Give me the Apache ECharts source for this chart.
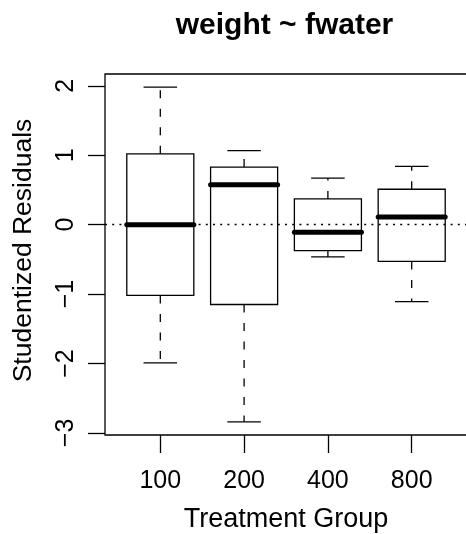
<!DOCTYPE html>
<html>
<head>
<meta charset="utf-8">
<script src="https://cdn.jsdelivr.net/npm/echarts@6/dist/echarts.min.js"></script>
<style>
  html, body { margin: 0; padding: 0; background: #fff; }
  #chart { width: 466px; height: 534px; }
</style>
</head>
<body>
<div id="chart"></div>
<script>
  // groups and five-number summaries
  const groups = ['100', '200', '400', '800']
  const lowerWhisker = [-1.99, -2.84, -0.465, -1.11]
  const lowerQuartile = [-1.02, -1.15, -0.375, -0.53]
  const median = [0.0, 0.575, -0.11, 0.11]
  const upperQuartile = [1.02, 0.83, 0.37, 0.51]
  const upperWhisker = [1.98, 1.065, 0.67, 0.84]
  const yTicks = [-3, -2, -1, 0, 1, 2]

  const font = '"Liberation Sans", Arial, sans-serif'
  const ink = '#000'

  const boxData = groups.map((g, i) => [
    i + 1, lowerWhisker[i], lowerQuartile[i], median[i], upperQuartile[i], upperWhisker[i]
  ])

  const thin = () => ({ stroke: ink, lineWidth: 1.3, fill: 'none' })
  const dashed = () => ({ stroke: ink, lineWidth: 1.3, fill: 'none', lineDash: [8, 10.5] })

  function renderBox (params, api) {
    const x = api.value(0)
    const halfBox = api.size([0.8, 0])[0] / 2
    const halfStaple = halfBox / 2
    const p = k => api.coord([x, api.value(k)])
    const lw = p(1); const q1 = p(2); const md = p(3); const q3 = p(4); const uw = p(5)
    const cx = lw[0]

    return {
      type: 'group',
      children: [
        { type: 'polyline', shape: { points: [[cx, q3[1]], [cx, uw[1]]] }, style: dashed() },
        { type: 'polyline', shape: { points: [[cx, q1[1]], [cx, lw[1]]] }, style: dashed() },
        { type: 'polyline', shape: { points: [[cx - halfStaple, uw[1]], [cx + halfStaple, uw[1]]] }, style: thin() },
        { type: 'polyline', shape: { points: [[cx - halfStaple, lw[1]], [cx + halfStaple, lw[1]]] }, style: thin() },
        { type: 'rect', shape: { x: cx - halfBox, y: q3[1], width: halfBox * 2, height: q1[1] - q3[1] }, style: thin() },
        { type: 'polyline', shape: { points: [[cx - halfBox, md[1]], [cx + halfBox, md[1]]] },
          style: { stroke: ink, lineWidth: 5, lineCap: 'round', fill: 'none' } }
      ]
    }
  }

  const minus = v => String(v).replace('-', '\u2212')

  const chart = echarts.init(document.getElementById('chart'))
  chart.setOption({
    animation: false,
    backgroundColor: '#fff',
    title: {
      text: 'weight ~ fwater',
      left: 284.5,
      top: 11,
      padding: 0,
      textAlign: 'center',
      textStyle: { fontFamily: font, fontSize: 30, fontWeight: 'bold', color: ink }
    },
    grid: {
      left: 105,
      top: 74,
      width: 362,
      height: 361,
      outerBoundsMode: 'none',
      containLabel: false,
      show: true,
      borderColor: ink,
      borderWidth: 1.3,
      backgroundColor: 'transparent'
    },
    xAxis: {
      type: 'value',
      min: 0.34,
      max: 4.66,
      splitLine: { show: false },
      axisLine: { show: false, onZero: false },
      axisTick: { show: true, customValues: [1, 2, 3, 4], length: 18, lineStyle: { color: ink, width: 1.3 } },
      axisLabel: {
        customValues: [1, 2, 3, 4],
        formatter: v => groups[Math.round(v) - 1],
        margin: 34,
        fontFamily: font,
        fontSize: 25,
        color: ink
      },
      name: 'Treatment Group',
      nameLocation: 'middle',
      nameGap: 71,
      nameTextStyle: { fontFamily: font, fontSize: 27, color: ink }
    },
    yAxis: {
      type: 'value',
      min: -3.03,
      max: 2.17,
      splitLine: { show: false },
      axisLine: { show: false, onZero: false },
      axisTick: { show: true, customValues: yTicks, length: 17, lineStyle: { color: ink, width: 1.3 } },
      axisLabel: {
        customValues: yTicks,
        formatter: minus,
        rotate: 90,
        margin: 26,
        fontFamily: font,
        fontSize: 25,
        color: ink
      },
      name: 'Studentized Residuals',
      nameLocation: 'middle',
      nameRotate: 90,
      nameGap: 68,
      nameTextStyle: { fontFamily: font, fontSize: 26.5, color: ink, padding: [0, 0, 0, 8] }
    },
    series: [{
      type: 'custom',
      renderItem: renderBox,
      encode: { x: 0, y: [1, 2, 3, 4, 5] },
      data: boxData,
      markLine: {
        silent: true,
        symbol: 'none',
        label: { show: false },
        lineStyle: { color: ink, width: 1.3, type: [2, 5.2] },
        data: [{ yAxis: 0 }]
      }
    }]
  })
</script>
</body>
</html>
